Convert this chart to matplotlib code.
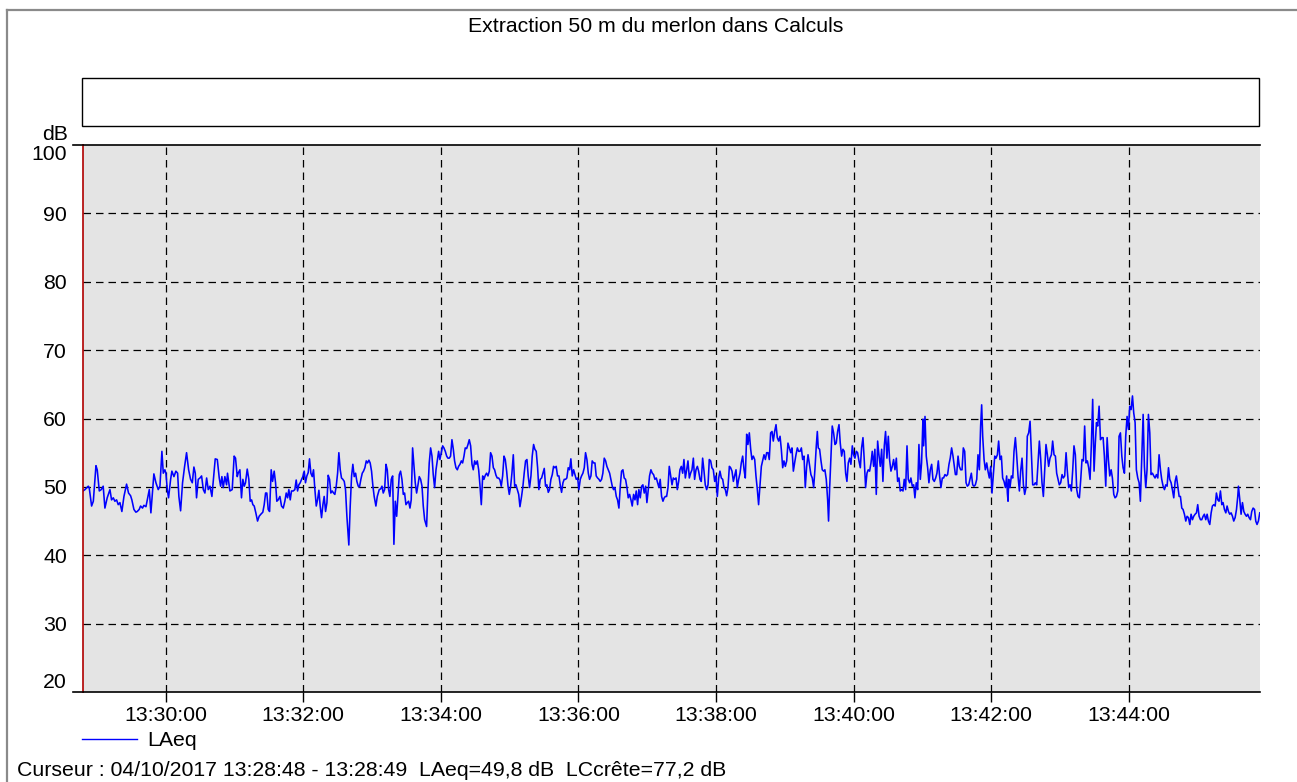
import datetime as dt
import matplotlib
matplotlib.use("Agg")
import matplotlib.pyplot as plt
import matplotlib.dates as mdates
from matplotlib.lines import Line2D
from matplotlib.patches import Rectangle

plt.rcParams['font.family'] = ['Liberation Sans', 'DejaVu Sans']

title = "Extraction 50 m du merlon dans Calculs"
cursor_text = "Curseur : 04/10/2017 13:28:48 - 13:28:49  LAeq=49,8 dB  LCcrête=77,2 dB"
series_name = "LAeq"
y_unit = "dB"
start = dt.datetime(2017, 10, 4, 13, 28, 48)
end_seconds = 1026.3
y_ticks = [20, 30, 40, 50, 60, 70, 80, 90, 100]

# seconds elapsed since 13:28:48
t_sec = [
    0, 1.7, 4.6, 5.4, 7.5, 9.0, 11.3, 12.4, 14.2, 15.9, 17.6, 19.1, 21.1, 23.5, 24.9, 26.4, 27.8, 29.3, 30.7, 32.2,
    33.9, 35.7, 38.0, 39.7, 41.5, 42.6, 44.4, 46.1, 47.3, 49.0, 50.2, 51.9, 53.1, 54.9, 56.6, 57.8, 59.2, 60.7, 61.8, 63.6,
    65.6, 67.1, 68.8, 70.0, 71.4, 72.3, 73.5, 74.6, 76.4, 77.5, 79.3, 81.0, 82.5, 83.6, 85.1, 86.8, 88.6, 90.3, 92.1, 93.8,
    95.3, 96.7, 97.9, 99.0, 100.5, 102.0, 103.4, 104.9, 106.3, 107.8, 109.2, 110.7, 112.4, 114.2, 115.3, 117.1, 118.8, 120.0, 121.1, 122.3,
    123.7, 125.2,
    126.0, 128.1, 130.1, 131.8, 133.0, 134.5, 135.3, 136.8, 138.2, 139.4, 140.6, 141.7, 143.2, 144.6, 145.8, 147.0, 148.1, 149.3, 150.7, 152.2,
    153.6, 155.1, 156.8, 158.0, 159.2, 160.3, 161.5, 162.7, 164.1, 165.3, 166.7, 167.9, 169.0, 170.2, 171.7, 173.1, 174.6, 176.0, 177.2, 178.4,
    179.5, 180.7, 181.8, 183.3, 184.7, 185.9, 187.1, 188.2, 189.4, 190.6, 191.7, 192.9, 194.0, 195.2, 196.4, 197.5, 198.7, 199.9, 201.0, 202.2,
    203.4, 204.5, 205.7, 206.8, 208.0, 209.2, 210.3, 211.5, 212.7, 213.8, 215.0, 216.1, 217.3, 218.5, 219.6, 220.8, 222.0, 223.1, 224.3, 225.4,
    226.6, 227.8, 228.9, 230.1, 231.8, 233.0, 234.2, 235.3, 236.5, 237.7, 238.8, 240.0, 241.1, 242.3, 243.5, 244.6, 245.8, 247.0, 248.1, 249.3,
    250.4, 251.6, 252.8, 253.9,
    255.4, 256.6, 258.3, 259.5, 260.7, 261.8, 263.0, 264.2, 265.3, 266.5, 267.6, 268.8, 270.0, 271.1, 272.3, 273.5, 274.6, 275.8, 276.9, 278.1,
    279.3, 280.4, 281.6, 282.8, 283.9, 285.1, 286.2, 287.4, 288.6, 289.7, 290.9, 292.1, 293.2, 294.4, 295.6, 296.7, 297.9, 299.6, 300.8, 301.9,
    303.1, 304.3, 305.4, 306.6, 307.8, 308.9, 310.1, 311.2, 312.4, 313.6, 314.7, 315.9, 317.1, 318.2, 319.4, 320.5, 321.7, 322.9, 324.0, 325.2,
    326.4, 327.5, 328.7, 329.9, 331.0, 332.2, 333.3, 334.5, 335.7, 336.8, 338.0, 339.2, 340.3, 341.5, 342.6, 343.8, 345.0, 346.1, 347.3, 348.5,
    349.6, 350.8, 351.9, 353.1, 354.3, 355.4, 356.6, 357.8, 358.9, 360.1, 361.2, 362.4, 363.6, 364.7, 365.9, 367.1, 368.2, 369.4, 370.6, 371.7,
    372.9, 374.0, 375.2, 376.4, 377.5, 378.7, 379.9,
    381.0, 382.4, 383.6, 384.7, 385.9, 387.1, 388.2, 389.4, 390.6, 391.7, 392.9, 394.0, 395.2, 396.4, 397.5, 398.7, 399.9, 401.0, 402.2, 403.3,
    404.5, 405.7, 406.8, 408.0, 409.2, 410.3, 411.5, 412.6, 413.8, 415.0, 416.1, 417.3, 418.5, 419.6, 420.8, 421.9, 423.1, 424.3, 425.4, 426.6,
    427.8, 428.9, 430.1, 431.3, 432.4, 433.6, 434.7, 435.9, 437.1, 438.2, 439.4, 440.6, 441.7, 442.9, 444.0, 445.2, 446.4, 447.5, 448.7, 449.9,
    451.0, 452.2, 453.3, 454.5, 455.7, 456.8, 458.0, 459.2, 460.3, 461.5, 462.6, 463.8, 465.0, 466.1, 467.3, 468.5, 469.6, 470.8, 471.9, 473.1,
    474.3, 475.4, 476.6, 477.8, 478.9, 480.1, 481.3, 482.4, 483.6, 484.7, 485.9, 487.1, 488.2, 489.4, 490.6, 491.7, 492.9, 494.0, 495.2, 496.4,
    497.5, 498.7, 499.9, 501.0, 502.2, 503.3, 504.5, 505.7, 506.8,
    507.8, 508.9, 510.1, 511.2, 512.4, 513.6, 514.7, 515.9, 517.1, 518.2, 519.4, 520.5, 521.7, 522.9, 524.0, 525.2, 526.4, 527.5, 528.7, 529.8,
    531.0, 532.2, 533.3, 534.5, 535.7, 536.8, 538.0, 539.1, 540.3, 541.5, 542.6, 543.8, 545.0, 546.1, 547.3, 548.4, 549.6, 550.8, 551.9, 553.1,
    554.3, 555.4, 556.6, 557.8, 558.9, 560.1, 561.2, 562.4, 563.6, 564.7, 565.9, 567.1, 568.2, 569.4, 570.5, 571.7, 572.9, 574.0, 575.2, 576.4,
    577.5, 578.7, 579.8, 581.0, 582.2, 583.3, 584.5, 585.7, 586.8, 588.0, 589.1, 590.3, 591.5, 592.6, 593.8, 595.0, 596.1, 597.3, 598.4, 599.6,
    600.8, 601.9, 603.1, 604.3, 605.4, 606.6, 607.8, 608.9, 610.1, 611.2, 612.4, 613.6, 614.7, 615.9, 617.1, 618.2, 619.4, 620.5, 621.7, 622.9,
    624.0, 625.2, 626.4, 627.5, 628.7, 629.8, 631.0, 632.2,
    634.7, 635.9, 637.1, 638.2, 639.4, 640.3, 641.1, 642.3, 643.5, 644.6, 645.8, 646.9, 648.1, 649.3, 650.1, 651.0, 652.2, 653.3, 654.5, 655.7,
    656.8, 658.0, 659.2, 660.3, 661.5, 662.6, 663.8, 665.0, 666.1, 667.3, 668.5, 669.6, 670.8, 671.9, 673.1, 674.3, 675.4, 676.6, 677.8, 678.9,
    680.1, 681.2, 682.4, 683.6, 684.7, 685.9, 687.1, 688.2, 689.4, 690.5, 691.7, 692.9, 694.0, 695.2, 696.4, 697.5, 698.7, 699.8, 701.0, 702.2,
    703.3, 704.5, 705.7, 706.8, 708.0, 709.2, 710.3, 711.5, 712.6, 713.8, 715.0, 716.1, 717.3, 718.5, 719.6, 720.8, 721.9, 723.1, 724.3, 725.4,
    726.6, 727.8, 728.9, 730.1, 731.2, 732.4, 733.0, 734.2, 735.3, 736.5, 737.6, 738.8, 740.0, 741.1, 742.3, 743.5, 744.6, 745.8, 746.9, 748.1,
    749.3, 750.4, 751.6, 752.8, 753.9, 755.1, 756.2, 757.4, 758.6,
    760.7, 761.8, 763.0, 764.1, 765.3, 766.5, 767.6, 768.8, 770.0, 771.1, 772.3, 773.4, 774.6, 775.8, 776.9, 778.1, 779.3, 780.4, 781.6, 782.7,
    783.6, 784.5, 785.7, 786.8, 788.0, 789.1, 790.3, 791.5, 792.6, 793.8, 795.0, 796.1, 797.3, 798.4, 799.6, 800.8, 801.9, 803.1, 804.3, 805.4,
    806.0, 806.6, 807.2, 808.3, 809.5, 810.7, 811.8, 813.0, 814.1, 815.3, 816.5, 817.6, 818.8, 820.0, 821.1, 822.3, 823.4, 824.6, 825.8, 826.9,
    828.1, 829.3, 830.4, 831.6, 832.7, 833.9, 835.1, 836.2, 837.4, 838.6, 839.7, 840.9, 842.0, 843.2, 844.4, 845.5, 846.7, 847.9, 849.0, 850.2,
    851.3, 852.5, 853.7, 854.8, 856.0, 857.2, 858.3, 859.5, 860.7, 861.8, 863.0, 864.1, 865.3, 866.5, 867.6, 868.8, 870.0, 871.1, 872.3, 873.4,
    874.6, 875.8, 876.9, 878.1, 879.3, 880.4, 881.6, 882.7,
    883.7, 884.8, 886.0, 887.2, 888.3, 889.5, 890.6, 891.8, 893.0, 894.1, 895.3, 896.5, 897.6, 898.8, 899.9, 901.1, 902.3, 903.4, 904.6, 905.8,
    906.9, 908.1, 909.2, 910.4, 911.6, 912.7, 913.9, 915.1, 916.2, 917.4, 918.5, 919.7, 920.9, 922.0, 923.2, 924.4, 925.5, 926.7, 927.8, 929.0,
    930.2, 931.3, 932.5, 933.7, 934.8, 936.0, 937.2, 938.3, 939.5, 940.6, 941.8, 943.0, 944.1, 945.3, 946.5, 947.6, 948.8, 949.9, 951.1, 952.3,
    953.4, 954.6, 955.8, 956.9, 958.1, 959.2, 960.4, 961.6, 962.7, 963.9, 965.1, 966.2, 967.4, 968.5, 969.7, 970.9, 972.0, 973.2, 974.4, 975.5,
    976.7, 977.8, 979.0, 980.2, 981.3, 982.5, 983.7, 984.8, 986.0, 987.2, 988.3, 989.5, 990.6, 991.8, 993.0, 994.1, 995.3, 996.5, 997.6, 998.8,
    999.9, 1001.1, 1002.3, 1003.4, 1004.6, 1005.8, 1006.9, 1007.5, 1008.7, 1009.8, 1011.0, 1012.2, 1013.3, 1014.5, 1015.6, 1016.8, 1018.0, 1019.1, 1020.3, 1021.5,
    1022.6, 1023.7, 1024.9, 1026.1,
]

laeq = [
    49.4, 49.6, 50.1, 49.9, 47.2, 47.9, 53.1, 52.5, 49.4, 49.6, 50.1, 46.9, 48.4, 49.6, 48.1, 48.4, 47.9, 48.1, 47.4, 47.7,
    46.4, 48.6, 50.4, 49.1, 48.7, 48.1, 46.7, 46.3, 46.4, 46.7, 47.2, 46.9, 47.3, 47.1, 48.6, 49.6, 46.2, 49.6, 51.9, 50.6,
    49.6, 50.1, 55.2, 52.0, 52.5, 52.0, 49.6, 48.4, 51.1, 52.3, 51.5, 52.3, 52.0, 48.6, 46.5, 50.6, 53.0, 55.0, 52.5, 51.1,
    50.6, 52.9, 52.0, 48.4, 51.1, 51.3, 51.6, 49.6, 49.1, 51.3, 49.6, 50.1, 48.6, 52.0, 54.1, 54.0, 51.3, 50.1, 51.5, 49.9,
    51.5, 50.3,
    52.0, 49.4, 49.6, 54.5, 54.2, 51.5, 52.0, 52.5, 48.4, 51.1, 50.1, 50.6, 52.6, 51.1, 47.9, 48.1, 47.4, 47.2, 46.2, 45.0,
    45.7, 46.0, 46.3, 47.4, 49.1, 49.1, 46.7, 46.4, 52.5, 50.8, 52.3, 50.6, 47.9, 48.1, 48.6, 47.2, 46.9, 47.9, 49.1, 48.4,
    49.6, 48.1, 49.4, 49.4, 49.6, 51.0, 49.4, 50.3, 50.6, 51.1, 51.5, 52.3, 50.6, 51.6, 52.1, 54.1, 52.0, 51.5, 52.5, 49.6,
    47.2, 48.1, 49.5, 47.2, 45.5, 47.4, 48.6, 46.4, 47.7, 51.7, 51.1, 49.1, 49.4, 49.1, 48.9, 50.1, 52.0, 55.0, 52.5, 51.3,
    51.1, 50.8, 49.6, 45.7, 41.5, 47.2, 51.6, 53.3, 51.5, 52.0, 50.8, 50.1, 50.0, 51.1, 52.0, 52.3, 52.8, 53.8, 53.5, 53.9,
    53.5, 52.3, 50.1, 48.6,
    47.2, 48.6, 49.6, 49.7, 50.1, 49.1, 49.6, 53.3, 52.5, 49.6, 48.6, 51.1, 51.6, 41.6, 47.9, 45.7, 48.6, 51.8, 52.3, 51.1,
    48.9, 49.1, 47.4, 47.7, 47.9, 46.9, 48.1, 55.7, 53.0, 50.6, 49.1, 50.3, 51.5, 51.1, 50.1, 47.2, 45.2, 44.2, 49.6, 53.5,
    55.7, 54.5, 51.8, 49.9, 52.5, 53.8, 55.2, 54.0, 55.0, 56.0, 55.7, 55.2, 54.5, 54.2, 54.2, 54.5, 56.9, 55.5, 53.8, 52.8,
    52.5, 53.0, 53.3, 53.8, 53.5, 54.5, 55.7, 55.6, 56.2, 56.9, 56.0, 53.3, 52.5, 53.8, 53.3, 53.8, 52.5, 50.3, 47.4, 51.6,
    51.1, 51.7, 52.0, 51.6, 52.3, 55.0, 54.5, 52.8, 52.5, 51.7, 51.3, 51.3, 51.0, 50.1, 51.6, 54.5, 54.0, 52.3, 50.1, 48.9,
    50.1, 52.0, 54.7, 50.1, 50.3, 49.6, 48.9,
    47.1, 48.6, 50.1, 52.0, 53.8, 54.0, 51.6, 49.9, 51.6, 54.5, 56.2, 55.5, 55.2, 52.8, 49.6, 51.1, 51.3, 52.0, 52.7, 50.1,
    50.3, 49.2, 49.6, 51.1, 51.8, 53.0, 52.8, 53.0, 51.6, 51.6, 50.3, 49.2, 50.6, 51.1, 51.1, 51.3, 52.8, 52.5, 54.1, 51.6,
    52.5, 51.8, 51.1, 51.3, 49.6, 51.1, 51.6, 52.0, 52.8, 55.0, 54.0, 52.0, 51.1, 51.6, 53.8, 53.5, 53.5, 51.6, 51.3, 51.1,
    50.8, 51.1, 52.0, 54.2, 53.8, 53.0, 52.5, 52.0, 51.1, 50.1, 49.6, 49.9, 48.6, 48.1, 46.9, 50.1, 52.3, 52.5, 51.3, 51.1,
    49.9, 48.4, 48.9, 48.1, 47.2, 48.9, 48.1, 49.4, 47.4, 49.6, 48.4, 50.1, 50.3, 49.1, 50.1, 47.7, 49.6, 51.6, 52.5, 52.0,
    51.8, 51.1, 51.3, 50.6, 49.9, 51.1, 48.6, 47.9, 48.4,
    48.6, 48.6, 49.9, 53.0, 51.6, 50.3, 51.3, 51.1, 51.3, 49.6, 50.8, 52.5, 53.0, 52.0, 54.0, 51.3, 52.5, 53.8, 51.3, 52.0,
    52.5, 54.2, 51.1, 52.5, 53.0, 52.3, 51.1, 50.8, 54.2, 52.3, 50.3, 49.6, 50.3, 54.0, 53.8, 52.8, 52.5, 50.8, 51.6, 48.6,
    51.3, 52.3, 51.3, 51.1, 49.9, 49.6, 48.7, 49.9, 53.0, 52.8, 52.3, 50.8, 51.6, 52.5, 49.9, 51.1, 52.0, 53.5, 54.5, 52.5,
    51.3, 57.7, 56.2, 57.9, 55.5, 54.0, 54.5, 54.0, 51.6, 49.6, 47.4, 50.1, 53.0, 53.8, 54.7, 54.0, 55.0, 55.0, 54.0, 57.9,
    58.1, 56.7, 58.1, 59.1, 57.2, 56.7, 57.4, 55.5, 52.8, 53.8, 53.0, 53.8, 56.4, 55.7, 55.0, 55.7, 52.3, 53.5, 54.7, 55.7,
    55.2, 55.2, 55.7, 54.0, 54.5, 49.9, 53.0, 54.7,
    51.8, 51.3, 49.9, 52.5, 56.0, 58.1, 55.7, 55.5, 53.8, 52.5, 52.3, 52.5, 51.1, 48.1, 45.0, 49.6, 54.5, 58.9, 57.9, 56.2,
    56.4, 58.1, 59.1, 56.4, 54.5, 55.5, 55.2, 52.0, 50.8, 53.5, 54.2, 53.3, 56.0, 54.7, 54.2, 55.2, 55.0, 53.8, 52.8, 55.7,
    57.2, 54.0, 49.9, 52.0, 52.5, 52.3, 53.5, 55.2, 53.0, 55.5, 48.9, 56.7, 54.7, 53.0, 55.5, 50.8, 56.0, 58.1, 54.2, 57.4,
    54.0, 52.3, 53.0, 54.0, 52.5, 54.2, 50.8, 51.3, 49.4, 49.6, 49.4, 51.1, 49.6, 56.0, 51.1, 50.6, 51.3, 50.1, 50.3, 48.4,
    50.6, 49.6, 56.2, 51.1, 53.5, 59.9, 56.0, 60.3, 54.5, 52.8, 50.6, 52.5, 53.3, 51.1, 50.8, 51.3, 52.0, 53.8, 51.6, 49.9,
    51.3, 51.3, 51.8, 51.6, 51.8, 53.3, 54.2, 55.7, 54.5,
    51.8, 51.8, 54.5, 53.0, 52.5, 52.5, 55.7, 55.2, 50.6, 50.1, 50.3, 51.1, 52.0, 50.3, 50.1, 50.3, 51.1, 54.7, 52.5, 58.9,
    62.0, 57.4, 54.0, 52.5, 53.5, 52.3, 51.3, 53.0, 49.1, 51.8, 54.5, 54.2, 54.7, 56.7, 54.0, 54.5, 51.3, 50.8, 49.9, 51.6,
    49.1, 47.9, 51.1, 49.9, 51.6, 51.3, 55.2, 57.2, 54.7, 51.6, 49.4, 52.3, 54.2, 50.3, 48.9, 49.9, 57.4, 57.9, 59.6, 55.2,
    50.3, 50.3, 50.6, 50.3, 53.3, 56.7, 54.0, 50.6, 48.6, 52.5, 56.2, 54.7, 53.0, 54.2, 54.7, 56.7, 54.7, 54.5, 52.0, 51.1,
    50.3, 50.6, 51.8, 51.3, 51.6, 55.0, 52.3, 49.9, 50.3, 49.4, 52.5, 56.0, 54.7, 49.6, 48.6, 48.4, 51.1, 54.0, 53.8, 58.9,
    53.5, 53.8, 52.8, 51.1, 56.4, 62.8, 52.3, 56.4,
    59.4, 58.9, 61.8, 56.9, 57.2, 57.2, 54.5, 50.1, 57.2, 54.0, 51.6, 52.5, 51.3, 48.9, 48.4, 48.6, 49.4, 57.4, 57.9, 54.5,
    52.8, 52.0, 57.4, 60.3, 58.4, 61.8, 61.3, 63.3, 60.8, 59.4, 52.5, 51.3, 50.6, 47.9, 54.5, 60.6, 53.0, 49.9, 52.5, 60.6,
    57.9, 51.8, 52.0, 51.6, 51.3, 51.8, 51.3, 54.7, 52.5, 51.1, 50.1, 49.6, 50.3, 50.1, 52.8, 51.1, 50.6, 49.6, 48.4, 50.8,
    51.6, 50.1, 48.6, 48.6, 46.9, 46.7, 46.0, 45.0, 45.7, 45.5, 44.5, 46.0, 45.2, 45.7, 46.0, 46.2, 47.4, 45.7, 45.2, 45.2,
    45.7, 46.0, 45.2, 46.0, 45.0, 44.5, 46.2, 47.2, 47.4, 47.2, 49.1, 48.1, 47.9, 49.4, 47.4, 47.7, 46.7, 46.2, 47.2, 46.4,
    46.0, 46.2, 45.7, 45.0, 45.5, 46.7, 48.6, 50.1, 48.1, 46.0, 47.7, 46.4, 46.0, 45.7, 46.0, 45.5, 45.2, 46.4, 46.9, 46.7,
    45.0, 44.5, 45.0, 46.2,
]

times = [start + dt.timedelta(seconds=s) for s in t_sec]

W, H = 1297, 782
fig = plt.figure(figsize=(W / 100, H / 100), dpi=100)
fig.patch.set_facecolor('white')

ax = fig.add_axes([83 / W, 1 - 692 / H, (1260 - 83) / W, (692 - 145) / H])
ax.set_facecolor('#e4e4e4')

line, = ax.plot(times, laeq, color='#0000ff', lw=1.15, label=series_name)

ax.set_xlim(start, start + dt.timedelta(seconds=end_seconds))
ax.set_ylim(20, 100)
ax.set_yticks(y_ticks)
ax.xaxis.set_major_locator(mdates.MinuteLocator(byminute=range(0, 60, 2)))
ax.xaxis.set_major_formatter(mdates.DateFormatter('%H:%M:%S'))

fs = 15.3
ax.tick_params(axis='x', direction='out', length=7.2, width=1, colors='black',
               labelsize=fs, pad=3.0)
ax.tick_params(axis='y', length=0, labelsize=fs, pad=11.5)
ylabels = ax.get_yticklabels()
ylabels[0].set_verticalalignment('bottom')
ylabels[-1].set_verticalalignment('top')

ax.spines['right'].set_visible(False)
ax.spines['left'].set_color('#b00000')
ax.spines['left'].set_linewidth(1.2)
ax.spines['top'].set_color('black')
ax.spines['bottom'].set_color('black')
ax.spines['top'].set_linewidth(1.2)
ax.spines['bottom'].set_linewidth(1.2)

# dashed grid
for v in y_ticks[1:-1]:
    ax.axhline(v, color='black', lw=0.9, ls=(0, (6, 4)), zorder=1)
ax.xaxis.grid(True, color='black', lw=0.9, ls=(0, (6, 4)))
ax.set_axisbelow(True)

# short extension of top/bottom spines to the left
ext = 10 / (1260 - 83)
for yy in (0, 1):
    ax.add_line(Line2D([-ext, 0], [yy, yy], transform=ax.transAxes, color='black',
                       lw=1.2, clip_on=False))

# outer frame (gray)
fig.add_artist(Line2D([7 / W, 7 / W], [0, 1 - 10 / H], color='#8a8a8a', lw=1.6))
fig.add_artist(Line2D([7 / W, 1], [1 - 10 / H, 1 - 10 / H], color='#8a8a8a', lw=1.6))

# empty white box above the plot
fig.add_artist(Rectangle((82 / W, 1 - 126 / H), (1259 - 82) / W, (126 - 78) / H,
                         facecolor='white', edgecolor='black', lw=1.0))

fig.text(656 / W, 1 - 26 / H, title, ha='center', va='center', fontsize=fs)
fig.text(68 / W, 1 - 135 / H, y_unit, ha='right', va='center', fontsize=fs)

leg = fig.legend(handles=[line], loc='center left', bbox_to_anchor=(82 / W, 1 - 741 / H),
                 frameon=False, fontsize=fs, handlelength=2.6, handletextpad=0.45,
                 borderpad=0, borderaxespad=0)
leg.get_lines()[0].set_linewidth(1.0)

fig.text(17 / W, 1 - 771 / H, cursor_text, ha='left', va='center', fontsize=fs)

fig.savefig('out.png', dpi=100)
